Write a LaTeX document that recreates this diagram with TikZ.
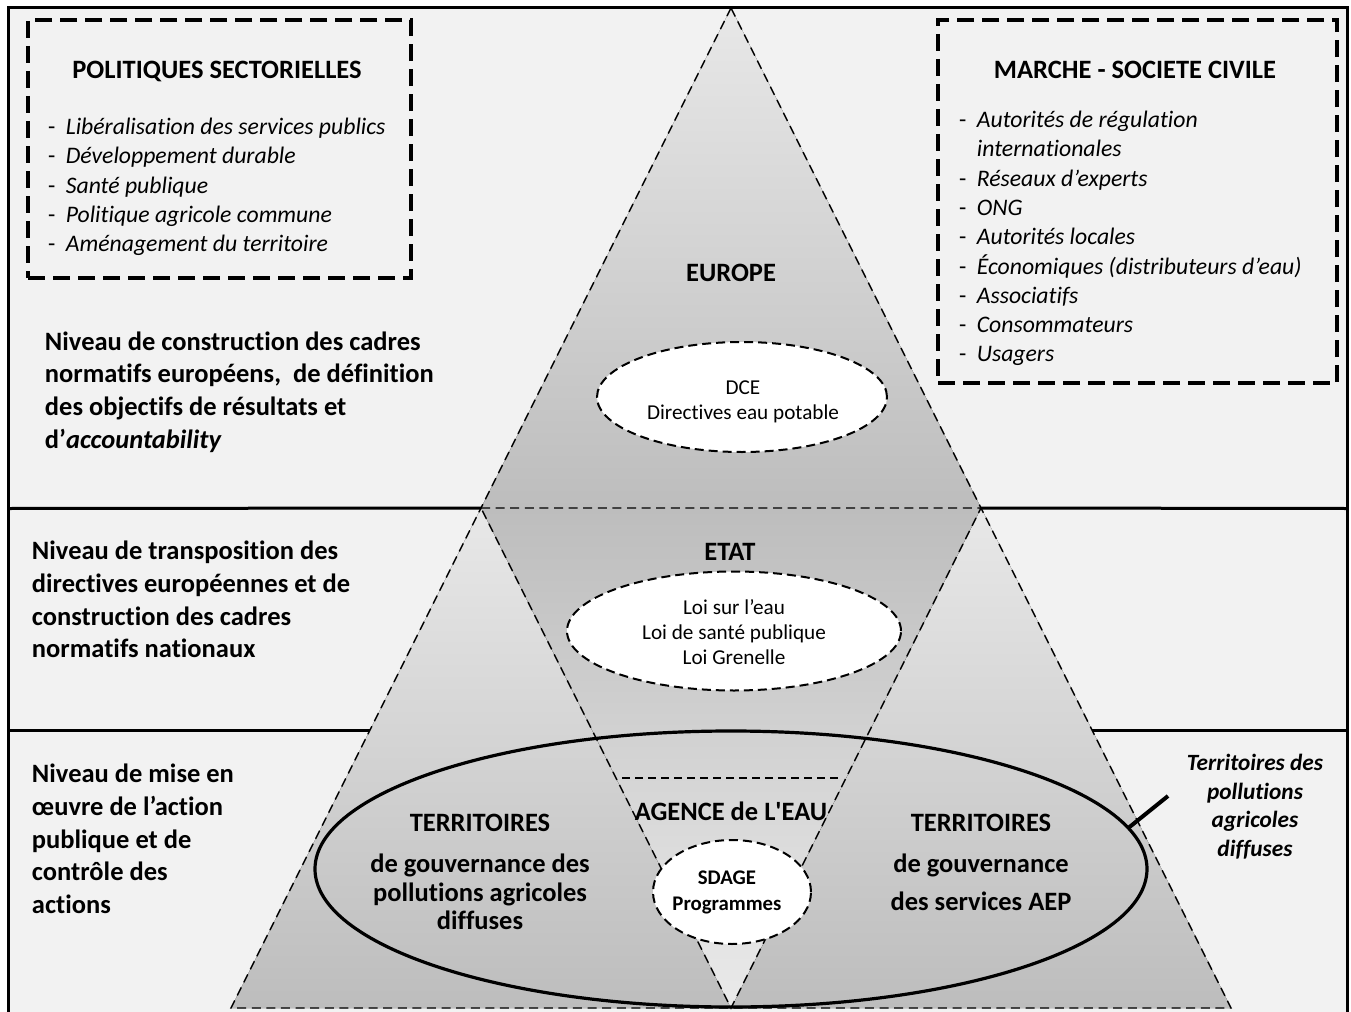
\documentclass[tikz,border=0pt]{standalone}
\usepackage{fontspec}
\setmainfont{Carlito}[Ligatures={TeX,NoCommon}]
\usetikzlibrary{shapes.geometric}
\definecolor{bgc}{RGB}{242,242,242}
\definecolor{lightg}{RGB}{232,232,232}
\definecolor{darkg}{RGB}{189,189,189}
\newcommand{\mytab}[2]{\begin{tabular}[t]{@{}#1@{}}#2\end{tabular}}
\begin{document}
\begin{tikzpicture}[x=0.5pt,y=-0.5pt,
  txt/.style={inner sep=0pt,outer sep=0pt},
  bigbold/.style={txt,font={\fontsize{13.25}{16.4}\selectfont\bfseries}},
  terrtxtL/.style={txt,font={\fontsize{13.25}{14.25}\selectfont\bfseries}},
  terrtxtR/.style={txt,font={\fontsize{13.25}{19}\selectfont\bfseries}},
  itemtxt/.style={txt,font={\fontsize{11.85}{14.65}\selectfont}},
  elltxt/.style={txt,font={\fontsize{10.6}{12.6}\selectfont}},
  sdagetxt/.style={txt,font={\fontsize{10.4}{13}\selectfont\bfseries}},
  rlabtxt/.style={txt,font={\fontsize{11.65}{14.25}\selectfont\bfseries\itshape}},
  frameline/.style={line width=1.5pt},
  thinedge/.style={line width=0.7pt,dash pattern=on 4.5pt off 2.8pt},
  agline/.style={line width=1pt,dash pattern=on 4pt off 2.5pt},
  boxdash/.style={draw,line width=2pt,dash pattern=on 8.5pt off 4pt,inner sep=0pt,anchor=north west},
  smallell/.style={ellipse,draw,fill=white,line width=1pt,dash pattern=on 4.5pt off 2.5pt,inner sep=0pt},
  bigell/.style={ellipse,draw,line width=1.6pt,inner sep=0pt},
  tickline/.style={line width=2pt},
]
\useasboundingbox (0,0) rectangle (1351,1012);
\fill[white] (0,0) rectangle (1351,1012);
\fill[bgc] (8,7) rectangle (1347,1012);

% geometry of the pyramid
\coordinate (A) at (731,8);
\coordinate (L) at (231,1008);
\coordinate (R) at (1231,1008);
\coordinate (mL) at (481,508);
\coordinate (mR) at (981,508);
\coordinate (mB) at (731,1008);

% level separators
\draw[frameline] (8,508.5) -- (mL);
\draw[frameline] (mR) -- (1347,508.5);
\draw[frameline] (8,730) -- (371,730);
\draw[frameline] (1091,730) -- (1347,730);

% shaded triangles
\fill[top color=lightg,bottom color=darkg] (A) -- (mL) -- (mR) -- cycle;
\fill[top color=lightg,bottom color=darkg] (mL) -- (L) -- (mB) -- cycle;
\fill[top color=lightg,bottom color=darkg] (mR) -- (mB) -- (R) -- cycle;
\fill[top color=darkg,bottom color={rgb,255:red,234;green,234;blue,234}] (mL) -- (mR) -- (mB) -- cycle;

% dashed edges
\draw[thinedge] (A) -- (L) -- (R) -- cycle;
\draw[thinedge] (mL) -- (mR) -- (mB) -- cycle;
\coordinate (agL) at (622,778);
\coordinate (agR) at (841,778);
\draw[agline] (agL) -- (agR);

% big ellipse
\node[bigell,minimum width=416pt,minimum height=138pt] (terr) at (731,869) {};

% small ellipses
\node[smallell,minimum width=145pt,minimum height=55pt] (dce) at (742,397) {};
\node[smallell,minimum width=167pt,minimum height=59.5pt] (loi) at (734,631) {};
\node[smallell,minimum width=79pt,minimum height=52pt] (sdage) at (732,892) {};

\node[elltxt,anchor=base] (dcetxt) at (743,394) {\mytab{c}{DCE\\Directives eau potable}};
\node[elltxt,anchor=base] (loitxt) at (734,614) {\mytab{c}{Loi sur l’eau\\Loi de santé publique\\Loi Grenelle}};
\node[sdagetxt,anchor=base] (sdagetx) at (727,884) {\mytab{c}{SDAGE\\Programmes}};

% pyramid labels
\node[bigbold,anchor=base] (europe) at (731,281.5) {EUROPE};
\node[bigbold,anchor=base] (etat) at (730,560.5) {ETAT};
\node[bigbold,anchor=base] (agence) at (731,820.5) {AGENCE de L\textquotesingle EAU};
\node[bigbold,anchor=base] (terrL) at (480,831.5) {TERRITOIRES};
\node[terrtxtL,anchor=base] (terrLtxt) at (480,872.5) {\mytab{c}{de gouvernance des\\pollutions agricoles\\diffuses}};
\node[bigbold,anchor=base] (terrR) at (981,831.5) {TERRITOIRES};
\node[terrtxtR,anchor=base] (terrRtxt) at (981,872.5) {\mytab{c}{de gouvernance\\des services AEP}};

% left level labels
\node[bigbold,anchor=base west] (lab1) at (45,350) {\mytab{l}{Niveau de construction des cadres\\normatifs européens,~ de définition\\des objectifs de résultats et\\d’\textit{accountability}}};
\node[bigbold,anchor=base west] (lab2) at (32,559.5) {\mytab{l}{Niveau de transposition des\\directives européennes et de\\construction des cadres\\normatifs nationaux}};
\node[bigbold,anchor=base west] (lab3) at (32,782.5) {\mytab{l}{Niveau de mise en\\œuvre de l’action\\publique et de\\contrôle des\\actions}};

% right label and tick
\node[rlabtxt,anchor=base] (rlab) at (1255,770.5) {\mytab{c}{Territoires des\\pollutions\\agricoles\\diffuses}};
\coordinate (tickend) at (1168,796);
\draw[tickline] (terr.6) -- (tickend);

% dashed boxes
\node[boxdash,minimum width=191.5pt,minimum height=129pt] (lbox) at (26,18) {};
\node[bigbold,anchor=base] (ltitle) at (217,78.5) {POLITIQUES SECTORIELLES};
\node[itemtxt,anchor=base west] (litems) at (48,134.5) {\mytab{l@{\hspace{5.3pt}}l}{-&\textit{Libéralisation des services publics}\\-&\textit{Développement durable}\\-&\textit{Santé publique}\\-&\textit{Politique agricole commune}\\-&\textit{Aménagement du territoire}}};

\node[boxdash,minimum width=199.5pt,minimum height=181.5pt] (rbox) at (936,18) {};
\node[bigbold,anchor=base] (rtitle) at (1135,78.5) {MARCHE - SOCIETE CIVILE};
\node[itemtxt,anchor=base west] (ritems) at (959,127.5) {\mytab{l@{\hspace{5.3pt}}l}{-&\textit{Autorités de régulation}\\&\textit{internationales}\\-&\textit{Réseaux d’experts}\\-&\textit{ONG}\\-&\textit{Autorités locales}\\-&\textit{Économiques (distributeurs d’eau)}\\-&\textit{Associatifs}\\-&\textit{Consommateurs}\\-&\textit{Usagers}}};

% outer frame
\draw[frameline] (8,1012) -- (8,7) -- (1347,7) -- (1347,1012);
\end{tikzpicture}
\end{document}
